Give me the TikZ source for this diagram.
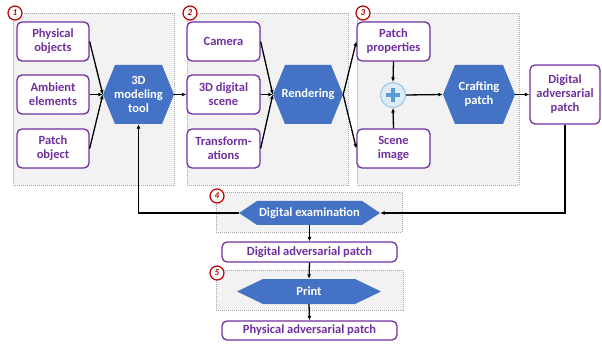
\documentclass[tikz,border=0pt]{standalone}
\usepackage{fontspec}
\setmainfont{Carlito}
\usetikzlibrary{arrows.meta,calc}
\definecolor{purp}{HTML}{7030A0}
\definecolor{hexblue}{HTML}{4472C4}
\definecolor{grpbg}{HTML}{F2F2F2}
\definecolor{grpline}{HTML}{A6A6A6}
\definecolor{numred}{HTML}{C00000}
\definecolor{plusfill}{HTML}{DDEBF7}
\definecolor{plusline}{HTML}{9DC3E6}
\definecolor{plusblue}{HTML}{5B9BD5}
\tikzset{
  grp/.style={fill=grpbg,draw=grpline,line width=0.6pt,dash pattern=on 1pt off 1pt},
  box/.style={draw=purp,fill=white,line width=1.3pt,rounded corners=5pt,
    text=purp,font=\fontsize{12.5}{14}\selectfont\bfseries,align=center,inner sep=0pt},
  hexlabel/.style={text=white,font=\fontsize{12.5}{14}\selectfont\bfseries,align=center,inner sep=0pt},
  num/.style={circle,draw=numred,fill=white,line width=1.2pt,minimum size=14pt,inner sep=0pt,
    text=numred,font=\fontsize{9}{9}\selectfont\bfseries\itshape},
  arr/.style={line width=1.3pt,-{Latex[length=4.5pt,width=4pt]}},
}
% \hexnode{name}{cx}{cy}{w}{h}{tip depth}{text}
\newcommand{\hexnode}[7]{%
  \fill[hexblue] ({#2-#4/2},#3) -- ({#2-#4/2+#6},{#3-#5/2}) -- ({#2+#4/2-#6},{#3-#5/2})
    -- ({#2+#4/2},#3) -- ({#2+#4/2-#6},{#3+#5/2}) -- ({#2-#4/2+#6},{#3+#5/2}) -- cycle;
  \node[hexlabel,minimum width=#4,minimum height=#5] (#1) at (#2,#3) {#7};}
\begin{document}
\begin{tikzpicture}[x=1pt,y=-1pt]
\useasboundingbox (0,0) rectangle (602,347);
% groups
\draw[grp] (13,13) rectangle (174,185);
\draw[grp] (187,13) rectangle (348,185);
\draw[grp] (357,13) rectangle (519,185);
\draw[grp] (216,192) rectangle (402,232);
\draw[grp] (216,270) rectangle (403,310);
% group 1
\node[box,minimum width=72pt,minimum height=39pt] (phys) at (53,41.5) {Physical\\objects};
\node[box,minimum width=72pt,minimum height=39pt] (amb) at (53,94.5) {Ambient\\elements};
\node[box,minimum width=72pt,minimum height=39pt] (pobj) at (53,148.5) {Patch\\object};
\hexnode{tool}{138.5}{94.5}{71}{59}{12}{3D\\modeling\\tool}
% group 2
\node[box,minimum width=73pt,minimum height=39pt] (cam) at (223.5,41.5) {Camera};
\node[box,minimum width=73pt,minimum height=39pt] (scene) at (223.5,94.5) {3D digital\\scene};
\node[box,minimum width=73pt,minimum height=39pt] (trans) at (223.5,148.5) {Transform-\\ations};
\hexnode{rend}{308}{94.5}{70}{59}{12}{Rendering}
% group 3
\node[box,minimum width=73pt,minimum height=39pt] (pprop) at (393.5,41.5) {Patch\\properties};
\node[box,minimum width=73pt,minimum height=39pt] (simg) at (393.5,148.5) {Scene\\image};
\node[circle,fill=plusfill,draw=plusline,line width=1pt,minimum size=25pt,inner sep=0pt] (plus) at (393,95) {};
\draw[plusblue,line width=4.5pt] (386,95) -- (400,95) (393,88) -- (393,102);
\hexnode{craft}{479}{94.5}{72}{59}{12}{Crafting\\patch}
\node[box,minimum width=70pt,minimum height=59pt] (dap) at (565,94.5) {Digital\\adversarial\\patch};
% group 4 / 5
\hexnode{dexam}{309.5}{213}{141}{24}{18}{Digital examination}
\node[box,minimum width=175pt,minimum height=20pt] (dap2) at (309.5,252) {Digital adversarial patch};
\hexnode{print}{309}{291.5}{144}{25}{26}{Print}
\node[box,minimum width=175pt,minimum height=19pt] (pap) at (309.5,330.5) {Physical adversarial patch};
% numbers
\node[num] (n1) at (15,13) {1};
\node[num] (n2) at (190,13) {2};
\node[num] (n3) at (363,13) {3};
\node[num] (n4) at (217,196) {4};
\node[num] (n5) at (217,273) {5};
% connectors
\draw[arr] (phys.east) -- (tool.west);
\draw[arr] (amb.east) -- (tool.west);
\draw[arr] (pobj.east) -- (tool.west);
\draw[arr] (tool.east) -- (scene.west);
\draw[arr] (cam.east) -- (rend.west);
\draw[arr] (scene.east) -- (rend.west);
\draw[arr] (trans.east) -- (rend.west);
\draw[arr] (rend.east) -- (pprop.west);
\draw[arr] (rend.east) -- (simg.west);
\draw[arr] (pprop.south) -- (plus.north);
\draw[arr] (simg.north) -- (plus.south);
\draw[arr] (plus.east) -- (craft.west);
\draw[arr] (craft.east) -- (dap.west);
\draw[arr] (dap.south) |- (dexam.east);
\draw[arr] (dexam.west) -| (tool.south);
\draw[arr] (dexam.south) -- (dap2.north);
\draw[arr] (dap2.south) -- (print.north);
\draw[arr] (print.south) -- (pap.north);
\end{tikzpicture}
\end{document}
